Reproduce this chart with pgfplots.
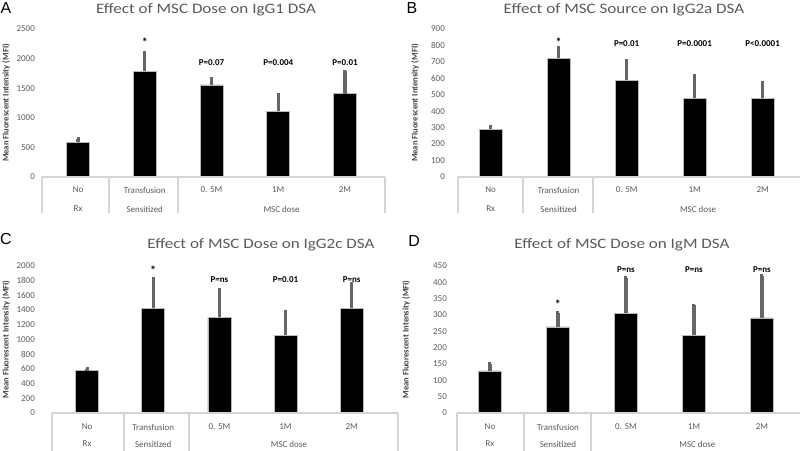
\documentclass[border=0pt]{standalone}
\usepackage{pgfplots}
\pgfplotsset{compat=1.18}
\usepackage{fontspec}
\setmainfont{Carlito}
\newfontfamily\titlefam[FakeStretch=1.18]{Carlito}
\newfontfamily\letterfont{Liberation Sans}
\definecolor{tickgray}{HTML}{595959}
\definecolor{errgray}{HTML}{666666}
\definecolor{tablegray}{HTML}{D4D4D4}
\definecolor{labgray}{HTML}{404040}
\newcommand\tickfont{\fontsize{9}{10}\selectfont}
\newcommand\catfont{\fontsize{9}{10}\selectfont}
\newcommand\pfont{\fontsize{9}{10}\selectfont\bfseries}
\newcommand\titlefont{\titlefam\fontsize{14.5}{16}\selectfont}
\tikzset{
  catlab/.style={font=\catfont, text=tickgray, inner sep=0pt, anchor=center},
  plab/.style={font=\pfont, text=black, inner sep=0pt, anchor=center},
  star/.style={font=\fontsize{12}{13}\selectfont\bfseries, text=black, inner sep=0pt, anchor=center},
  tline/.style={draw=tablegray, line width=2bp},
}
\pgfplotsset{
  panel/.style={
    scale only axis, anchor=south west, ymin=0,
    axis line style={draw=none}, major tick length=0pt, xtick=\empty,
    clip=false, scaled y ticks=false,
    /pgf/number format/1000 sep={},
    /pgf/number format/assume math mode=true,
    yticklabel style={font=\tickfont, text=tickgray, anchor=east, inner sep=0pt},
    ylabel={Mean Fluorescent Intensity (MFI)},
    ylabel style={font=\fontsize{8.6}{10}\selectfont\bfseries, text=labgray, at={(rel axis cs:0,0.5)}, anchor=center},
  },
  bars/.style={ybar, bar width=23bp, fill=black, draw=gray!55, line width=0.5bp,
    error bars/.cd, y dir=plus, y explicit,
    error bar style={line width=3.2bp, draw=errgray},
    error mark=-, error mark options={draw=errgray, line width=3bp, mark size=1.3bp}},
}
% category labels: #1 = first row offset, #2 = second row offset
\newcommand\cats[2]{%
  \node[catlab, yshift=-#1] at (axis cs:0,0) {No};
  \node[catlab, yshift=-#1] at (axis cs:1,0) {Transfusion};
  \node[catlab, yshift=-#1] at (axis cs:2,0) {0. 5M};
  \node[catlab, yshift=-#1] at (axis cs:3,0) {1M};
  \node[catlab, yshift=-#1] at (axis cs:4,0) {2M};
  \node[catlab, yshift=-#2] at (axis cs:0,0) {Rx};
  \node[catlab, yshift=-#2] at (axis cs:1,0) {Sensitized};
  \node[catlab, yshift=-#2] at (axis cs:3.05,0) {MSC dose};
}
\newcommand\vl[2]{\draw[tline] (axis cs:#1,0) -- ++(0pt,-#2);}
\begin{document}
\begin{tikzpicture}[x=1bp,y=1bp]
\useasboundingbox (0,0) rectangle (800,451);

% ---------- Panel A ----------
\begin{axis}[panel, at={(42bp,274bp)}, width=343bp, height=148bp,
  xmin=-0.54, xmax=4.6, ymax=2500, ytick={0,500,1000,1500,2000,2500},
  yticklabel style={xshift=-7bp}, ylabel style={yshift=36bp}]
\addplot[bars] coordinates {
 (0,583) +- (0,67)
 (1,1787) +- (0,320)
 (2,1555) +- (0,115)
 (3,1108) +- (0,292)
 (4,1410) +- (0,380)
};
\draw[tline] (axis cs:-0.54,0) -- (axis cs:4.6,0);
\vl{-0.54}{36bp}\vl{0.46}{36bp}\vl{1.5}{36bp}\vl{4.6}{36bp}
\cats{13bp}{32bp}
\node[star] at (axis cs:1,2275) {*};
\node[plab] at (axis cs:2,1930) {P=0.07};
\node[plab] at (axis cs:3,1930) {P=0.004};
\node[plab] at (axis cs:4,1930) {P=0.01};
\end{axis}

% ---------- Panel B ----------
\begin{axis}[panel, at={(458bp,274bp)}, width=342bp, height=148bp,
  xmin=-0.48, xmax=4.55, ymax=900, ytick={0,100,...,900},
  yticklabel style={xshift=-13bp}, ylabel style={yshift=43bp}]
\addplot[bars] coordinates {
 (0,289) +- (0,22)
 (1,721) +- (0,67)
 (2,588) +- (0,119)
 (3,478) +- (0,143)
 (4,478) +- (0,98)
};
\draw[tline] (axis cs:-0.48,0) -- (axis cs:4.55,0);
\vl{-0.48}{36bp}\vl{0.475}{36bp}\vl{1.5}{36bp}
\cats{13bp}{32bp}
\node[star] at (axis cs:1,819) {*};
\node[plab] at (axis cs:2,809) {P=0.01};
\node[plab] at (axis cs:3,809) {P=0.0001};
\node[plab] at (axis cs:4,809) {P<0.0001};
\end{axis}

% ---------- Panel C ----------
\begin{axis}[panel, at={(52bp,38bp)}, width=346bp, height=147bp,
  xmin=-0.53, xmax=4.7, ymax=2000, ytick={0,200,...,2000},
  yticklabel style={xshift=-17bp}, ylabel style={yshift=46bp}]
\addplot[bars] coordinates {
 (0,577) +- (0,28)
 (1,1423) +- (0,415)
 (2,1300) +- (0,380)
 (3,1059) +- (0,331)
 (4,1423) +- (0,335)
};
\draw[tline] (axis cs:-0.53,0) -- (axis cs:4.7,0);
\vl{-0.53}{40bp}\vl{0.56}{40bp}\vl{1.54}{40bp}\vl{4.7}{40bp}
\cats{14bp}{31bp}
\node[star] at (axis cs:1,1945) {*};
\node[plab] at (axis cs:2,1810) {P=ns};
\node[plab] at (axis cs:3,1810) {P=0.01};
\node[plab] at (axis cs:4,1810) {P=ns};
\end{axis}

% ---------- Panel D ----------
\begin{axis}[panel, at={(457bp,38bp)}, width=343bp, height=147bp,
  xmin=-0.485, xmax=4.56, ymax=450, ytick={0,50,...,450},
  yticklabel style={xshift=-10bp}, ylabel style={yshift=51bp}]
\addplot[bars] coordinates {
 (0,129) +- (0,22)
 (1,264) +- (0,43)
 (2,305) +- (0,109)
 (3,238) +- (0,92)
 (4,291) +- (0,129)
};
\draw[tline] (axis cs:-0.485,0) -- (axis cs:4.56,0);
\vl{-0.485}{40bp}\vl{0.5}{40bp}\vl{1.48}{40bp}
\cats{14bp}{31bp}
\node[star] at (axis cs:1,333) {*};
\node[plab] at (axis cs:2,440) {P=ns};
\node[plab] at (axis cs:3,440) {P=ns};
\node[plab] at (axis cs:4,440) {P=ns};
\end{axis}

% titles
\node[font=\titlefont, text=tickgray] at (206,441) {Effect of MSC Dose on IgG1 DSA};
\node[font=\titlefont, text=tickgray] at (624,441) {Effect of MSC Source on IgG2a DSA};
\node[font=\titlefont, text=tickgray] at (261,206) {Effect of MSC Dose on IgG2c DSA};
\node[font=\titlefont, text=tickgray] at (622,206) {Effect of MSC Dose on IgM DSA};
% letters
\node[font=\letterfont\fontsize{16}{18}\selectfont] at (6,443) {A};
\node[font=\letterfont\fontsize{16}{18}\selectfont] at (412,443) {B};
\node[font=\letterfont\fontsize{16}{18}\selectfont] at (6,212) {C};
\node[font=\letterfont\fontsize{16}{18}\selectfont] at (414,210) {D};
\end{tikzpicture}
\end{document}
